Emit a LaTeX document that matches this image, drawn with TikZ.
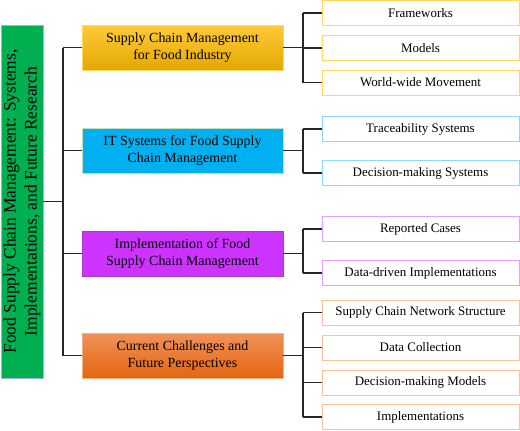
\documentclass[tikz,border=0pt]{standalone}
\usepackage{fontspec}
\setmainfont{Liberation Serif}
\definecolor{rootgreen}{HTML}{00B050}
\definecolor{rootborder}{HTML}{9DB8D8}
\definecolor{ytop}{HTML}{FFCA3A}
\definecolor{ybot}{HTML}{E3A800}
\definecolor{yborder}{HTML}{FFD966}
\definecolor{bfill}{HTML}{00B0F0}
\definecolor{bborder}{HTML}{C2E2BE}
\definecolor{bchild}{HTML}{8FD8F6}
\definecolor{pfill}{HTML}{CC33FF}
\definecolor{pborder}{HTML}{A43CC8}
\definecolor{pchild}{HTML}{E5A3FF}
\definecolor{otop}{HTML}{F0925A}
\definecolor{obot}{HTML}{E5650F}
\definecolor{oborder}{HTML}{F4B183}
\definecolor{ochild}{HTML}{F8C3A0}
\definecolor{lineclr}{HTML}{262626}
\begin{document}
\begin{tikzpicture}[x=1bp,y=-1bp,
  rootbox/.style={draw=rootborder, line width=0.8bp, fill=rootgreen, rotate=90,
    minimum width=353bp, minimum height=42bp, inner sep=0pt, align=center,
    font=\fontsize{17.5}{21}\selectfont},
  parentbox/.style={line width=0.8bp, minimum width=201bp, minimum height=45bp,
    inner sep=0pt, align=center, font=\fontsize{14}{16.8}\selectfont},
  childbox/.style={draw, line width=0.9bp, fill=white, minimum width=197bp,
    minimum height=25bp, inner sep=0pt, align=center,
    font=\fontsize{13}{15.6}\selectfont},
  conn/.style={draw=lineclr, line width=1.5bp}
]
\path[use as bounding box] (0,0) rectangle (520,430);

\coordinate (busA) at (63,0);
\coordinate (busB) at (303,0);

\node[rootbox] (root) at (22,201.5)
  {Food Supply Chain Management: Systems,\\Implementations, and Future Research};

\node[parentbox, draw=yborder, top color=ytop, bottom color=ybot] (p1) at (182.5,47.5)
  {Supply Chain Management\\for Food Industry};
\node[parentbox, draw=bborder, fill=bfill] (p2) at (182.5,150.5)
  {IT Systems for Food Supply\\Chain Management};
\node[parentbox, draw=pborder, fill=pfill] (p3) at (182.5,253.5)
  {Implementation of Food\\Supply Chain Management};
\node[parentbox, draw=oborder, top color=otop, bottom color=obot] (p4) at (182.5,355.5)
  {Current Challenges and\\Future Perspectives};

\node[childbox, draw=yborder] (c11) at (420.5,12.9) {Frameworks};
\node[childbox, draw=yborder] (c12) at (420.5,48) {Models};
\node[childbox, draw=yborder] (c13) at (420.5,82.5) {World-wide Movement};

\node[childbox, draw=bchild] (c21) at (420.5,129) {Traceability Systems};
\node[childbox, draw=bchild] (c22) at (420.5,173) {Decision-making Systems};

\node[childbox, draw=pchild] (c31) at (420.5,229) {Reported Cases};
\node[childbox, draw=pchild] (c32) at (420.5,273) {Data-driven Implementations};

\node[childbox, draw=ochild] (c41) at (420.5,312.5) {Supply Chain Network Structure};
\node[childbox, draw=ochild] (c42) at (420.5,347.5) {Data Collection};
\node[childbox, draw=ochild] (c43) at (420.5,382.5) {Decision-making Models};
\node[childbox, draw=ochild] (c44) at (420.5,417) {Implementations};

% root to parents
\draw[conn] (root.south) -- (root.south -| busA);
\draw[conn] (p1.west -| busA) -- (p4.west -| busA);
\foreach \p in {p1,p2,p3,p4} {
  \draw[conn] (\p.west -| busA) -- (\p.west);
}

% parents to children
\draw[conn] (p1.east) -- (p1.east -| busB);
\draw[conn] (c11.west -| busB) -- (c13.west -| busB);
\draw[conn] (p2.east) -- (p2.east -| busB);
\draw[conn] (c21.west -| busB) -- (c22.west -| busB);
\draw[conn] (p3.east) -- (p3.east -| busB);
\draw[conn] (c31.west -| busB) -- (c32.west -| busB);
\draw[conn] (p4.east) -- (p4.east -| busB);
\draw[conn] (c41.west -| busB) -- (c44.west -| busB);
\foreach \c in {c11,c12,c13,c21,c22,c31,c32,c41,c42,c43,c44} {
  \draw[conn] (\c.west -| busB) -- (\c.west);
}
\end{tikzpicture}
\end{document}
